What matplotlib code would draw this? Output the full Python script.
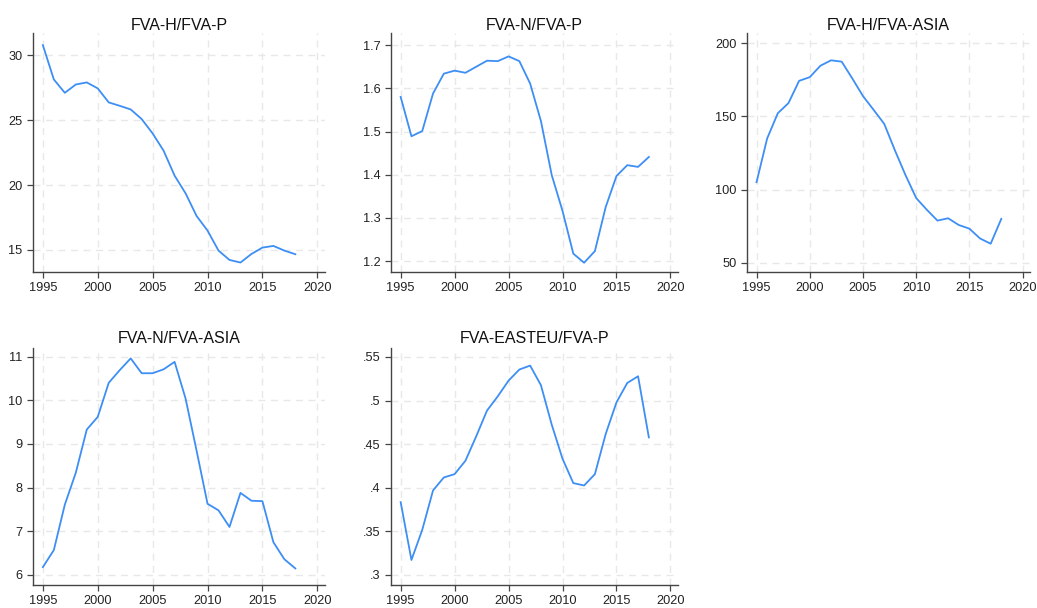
import matplotlib.pyplot as plt

plt.rcParams['font.family'] = ['Liberation Sans', 'DejaVu Sans']

years = list(range(1995, 2019))

fva_h_p = [30.77, 28.13, 27.10, 27.74, 27.90, 27.44, 26.36, 26.10, 25.82, 25.08,
           23.97, 22.64, 20.72, 19.36, 17.62, 16.49, 14.95, 14.23, 14.03, 14.69,
           15.18, 15.31, 14.95, 14.67]
fva_n_p = [1.580, 1.489, 1.501, 1.588, 1.634, 1.641, 1.636, 1.650, 1.664, 1.663,
           1.674, 1.663, 1.611, 1.524, 1.399, 1.316, 1.217, 1.196, 1.223, 1.325,
           1.397, 1.422, 1.418, 1.441]
fva_h_asia = [105.1, 135.0, 152.2, 159.1, 174.3, 176.8, 184.6, 188.3, 187.4, 175.9,
              163.9, 154.5, 144.9, 126.9, 109.9, 94.3, 86.3, 78.9, 80.5, 75.9,
              73.4, 66.7, 63.1, 80.1]
fva_n_asia = [6.18, 6.57, 7.61, 8.34, 9.33, 9.62, 10.40, 10.69, 10.96, 10.62,
              10.62, 10.71, 10.88, 10.04, 8.85, 7.63, 7.48, 7.10, 7.88, 7.70,
              7.69, 6.75, 6.36, 6.15]
fva_easteu_p = [.3835, .3172, .3517, .3969, .4118, .4156, .4309, .4589, .4884, .5048,
                .5228, .5355, .5400, .5175, .4723, .4332, .4053, .4026, .4156, .4616,
                .4979, .5201, .5278, .4577]

xticks = [1995, 2000, 2005, 2010, 2015, 2020]

# panel: (title, data, yticks, ytick labels, ylim, axes rect, title pad)
panels = [
    ("FVA-H/FVA-P", fva_h_p, [15, 20, 25, 30], ["15", "20", "25", "30"],
     (13.3, 31.7), [0.0318, 0.5526, 0.2816, 0.393], 2),
    ("FVA-N/FVA-P", fva_n_p, [1.2, 1.3, 1.4, 1.5, 1.6, 1.7],
     ["1.2", "1.3", "1.4", "1.5", "1.6", "1.7"],
     (1.1745, 1.728), [0.377, 0.5526, 0.2768, 0.393], 2),
    ("FVA-H/FVA-ASIA", fva_h_asia, [50, 100, 150, 200], ["50", "100", "150", "200"],
     (43.8, 206.9), [0.7203, 0.5526, 0.273, 0.393], 2),
    ("FVA-N/FVA-ASIA", fva_n_asia, [6, 7, 8, 9, 10, 11],
     ["6", "7", "8", "9", "10", "11"],
     (5.77, 11.2), [0.0318, 0.0378, 0.2816, 0.39], 3.5),
    ("FVA-EASTEU/FVA-P", fva_easteu_p, [.3, .35, .4, .45, .5, .55],
     [".3", ".35", ".4", ".45", ".5", ".55"],
     (.2885, .5603), [0.377, 0.0378, 0.2768, 0.39], 3.5),
]

fig = plt.figure(figsize=(10.37, 6.08), dpi=100)

for title, vals, yt, ytl, ylim, rect, tpad in panels:
    ax = fig.add_axes(rect)
    ax.plot(years, vals, color="#3d8ef5", linewidth=1.3)
    ax.set_xlim(1994.1, 2020.7)
    ax.set_ylim(*ylim)
    ax.set_xticks(xticks)
    ax.set_yticks(yt)
    ax.set_yticklabels(ytl)
    ax.grid(True, color="#e8e8e8", linestyle=(0, (5, 4)), linewidth=1)
    ax.set_axisbelow(True)
    for s in ["top", "right"]:
        ax.spines[s].set_visible(False)
    for s in ["left", "bottom"]:
        ax.spines[s].set_color("#444444")
        ax.spines[s].set_linewidth(1)
    ax.tick_params(length=4, width=0.9, pad=3.5, color="#444444",
                   labelsize=9.2, labelcolor="#222222")
    ax.set_title(title, fontsize=11.5, pad=tpad, color="#111111")

fig.savefig("out.png", dpi=100, facecolor="white")
